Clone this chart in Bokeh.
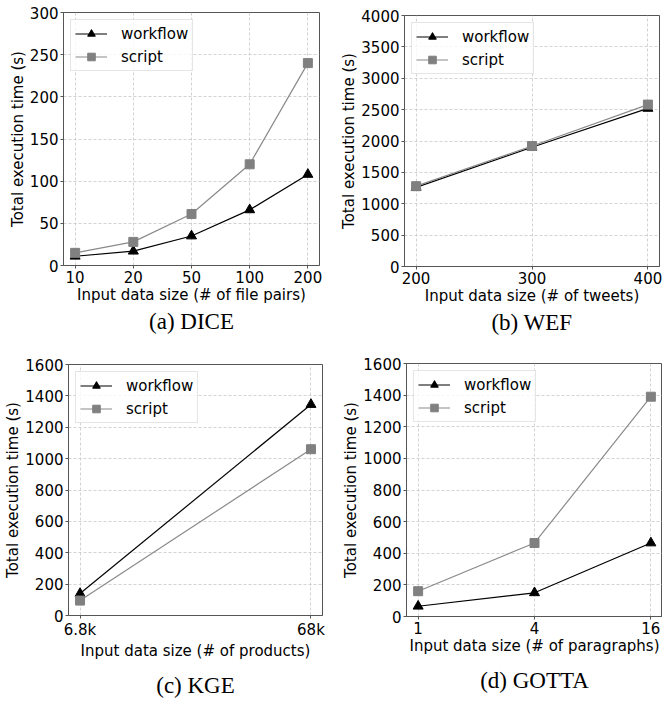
from bokeh.plotting import figure
from bokeh.layouts import column, row
from bokeh.models import Range1d, FixedTicker, Legend, LegendItem
from bokeh.embed import file_html
from bokeh.resources import INLINE

# ---- data ----
dice_sizes = ["10", "20", "50", "100", "200"]
dice_workflow = [11, 17, 35, 66, 108]
dice_script = [15, 28, 61, 120, 240]

wef_sizes = [200, 300, 400]
wef_workflow = [1260, 1900, 2520]
wef_script = [1280, 1920, 2580]

kge_sizes = ["6.8k", "68k"]
kge_workflow = [140, 1345]
kge_script = [95, 1060]

gotta_sizes = [1, 4, 16]
gotta_workflow = [65, 150, 465]
gotta_script = [160, 465, 1390]

y_label = "Total execution time (s)"
SANS = "DejaVu Sans"
SERIF = "Liberation Serif"


def make_panel(xs, tick_vals, tick_labels, x_range, y_max, y_step, wf, sc,
               xlabel, caption, w, h, bl, br, bt, bb, x_axis_type="linear",
               title_standoff=0):
    p = figure(width=w, height=h,
               min_border_left=bl, min_border_right=br,
               min_border_top=bt, min_border_bottom=bb,
               x_range=x_range, y_range=Range1d(0, y_max),
               x_axis_type=x_axis_type,
               output_backend="svg", toolbar_location=None,
               title=caption, title_location="below")
    p.title.align = "center"
    p.title.text_font = SERIF
    p.title.text_font_size = "23px"
    p.title.text_font_style = "normal"
    p.title.text_color = "black"
    p.title.standoff = title_standoff

    p.outline_line_color = "#555555"
    p.outline_line_width = 1
    p.background_fill_color = "white"
    p.border_fill_color = "white"

    p.xaxis.ticker = FixedTicker(ticks=tick_vals)
    p.xgrid.ticker = FixedTicker(ticks=tick_vals)
    p.xaxis.major_label_overrides = {v: l for v, l in zip(tick_vals, tick_labels)}
    yt = list(range(0, y_max + 1, y_step))
    p.yaxis.ticker = FixedTicker(ticks=yt)
    p.ygrid.ticker = FixedTicker(ticks=yt)

    for ax in (p.xaxis[0], p.yaxis[0]):
        ax.axis_line_color = "#555555"
        ax.major_tick_line_color = "#555555"
        ax.major_tick_out = 3
        ax.major_tick_in = 0
        ax.minor_tick_line_color = None
        ax.major_label_text_font = SANS
        ax.major_label_text_font_size = "15px"
        ax.major_label_text_color = "black"
        ax.major_label_standoff = 2
        ax.axis_label_text_font = SANS
        ax.axis_label_text_font_size = "15px"
        ax.axis_label_text_font_style = "normal"
        ax.axis_label_text_color = "black"
        ax.axis_label_standoff = 0
    p.xaxis.axis_label = xlabel
    p.yaxis.axis_label = y_label

    for g in (p.xgrid[0], p.ygrid[0]):
        g.grid_line_color = "#c8c8c8"
        g.grid_line_dash = "3 2"
        g.grid_line_width = 0.8

    l1 = p.line(xs, wf, line_color="black", line_width=1.2)
    s1 = p.scatter(xs, wf, marker="triangle", size=10, fill_color="black",
                   line_color="black")
    l2 = p.line(xs, sc, line_color="#8a8a8a", line_width=1.2)
    s2 = p.scatter(xs, sc, marker="square", size=9, fill_color="#808080",
                   line_color="#808080")

    legend = Legend(items=[LegendItem(label="workflow", renderers=[l1, s1]),
                           LegendItem(label="script", renderers=[l2, s2])],
                    location="top_left")
    legend.margin = 7
    legend.padding = 4
    legend.spacing = 4
    legend.glyph_width = 32
    legend.glyph_height = 19
    legend.label_height = 19
    legend.label_standoff = 14
    legend.label_text_font = SANS
    legend.label_text_font_size = "15px"
    legend.label_text_color = "black"
    legend.border_line_color = "#cccccc"
    legend.background_fill_alpha = 0.8
    p.add_layout(legend)
    return p


dice_x = list(range(len(dice_sizes)))
pa = make_panel(dice_x, dice_x, dice_sizes, Range1d(-0.2, len(dice_sizes) - 1 + 0.2),
                300, 50, dice_workflow, dice_script,
                "Input data size (# of file pairs)", "(a) DICE",
                w=331, h=340, bl=63, br=12, bt=12, bb=75, title_standoff=0)

pb = make_panel(wef_sizes, wef_sizes, [str(v) for v in wef_sizes], Range1d(190, 410),
                4000, 500, wef_workflow, wef_script,
                "Input data size (# of tweets)", "(b) WEF",
                w=331, h=340, bl=73, br=3, bt=15, bb=74, title_standoff=0)

kge_x = list(range(len(kge_sizes)))
pc = make_panel(kge_x, kge_x, kge_sizes, Range1d(-0.05, 1.05),
                1600, 200, kge_workflow, kge_script,
                "Input data size (# of products)", "(c) KGE",
                w=331, h=365, bl=68, br=9, bt=24, bb=88, title_standoff=16)

pd_ = make_panel(gotta_sizes, gotta_sizes, [str(v) for v in gotta_sizes],
                 Range1d(2 ** -0.2, 2 ** 4.2),
                 1600, 200, gotta_workflow, gotta_script,
                 "Input data size (# of paragraphs)", "(d) GOTTA",
                 w=331, h=365, bl=75, br=0, bt=23, bb=89, x_axis_type="log",
                 title_standoff=16)

layout = column(row(column(pa), column(pb)), row(column(pc), column(pd_)))

open("out.html", "w").write(file_html(layout, INLINE))
